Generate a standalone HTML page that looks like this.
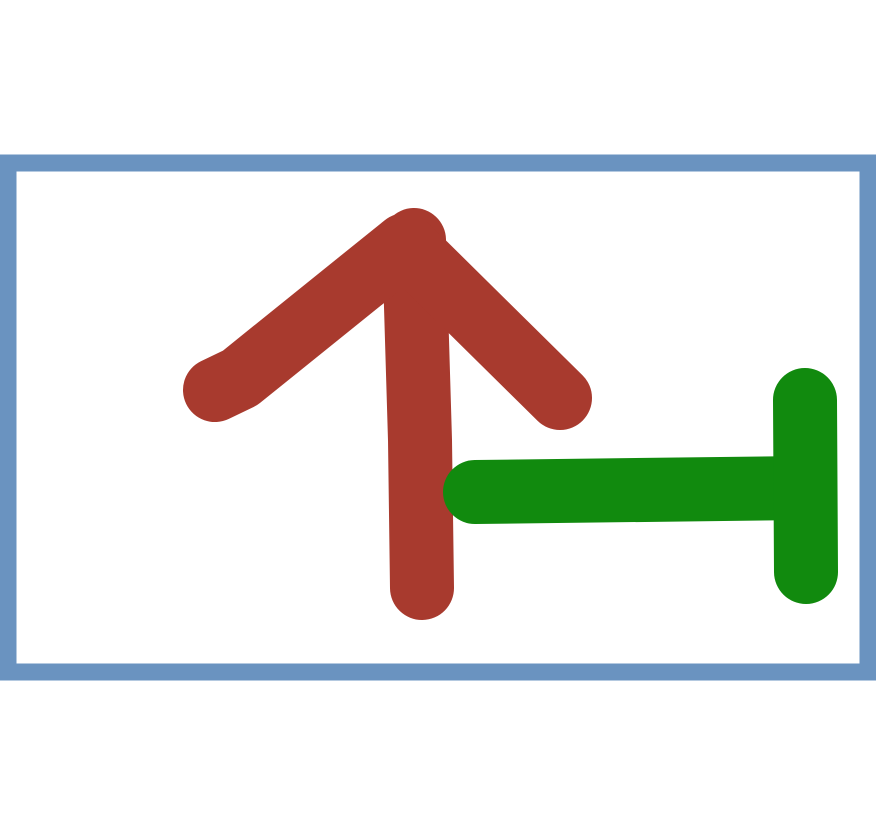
<!DOCTYPE html>
<html>
<head>
<meta charset="utf-8">
<style>
  html, body { margin: 0; padding: 0; background: #ffffff; }
  svg { display: block; }
</style>
</head>
<body>
<svg width="876" height="834" viewBox="0 0 876 834" xmlns="http://www.w3.org/2000/svg">
  <rect x="8" y="163" width="860" height="509" fill="#ffffff" stroke="#6a93c0" stroke-width="17"/>
  <g stroke="#a83a2e" stroke-width="64" stroke-linecap="round" stroke-linejoin="round" fill="none">
    <path d="M414 240 L420 440 L422 588"/>
    <path d="M215 390 L240 378 L405 245 L560 398"/>
  </g>
  <g stroke="#118a0e" stroke-width="64" stroke-linecap="round" stroke-linejoin="round" fill="none">
    <path d="M475 492 L805 488"/>
    <path d="M805 400 L806 572"/>
  </g>
</svg>
</body>
</html>
